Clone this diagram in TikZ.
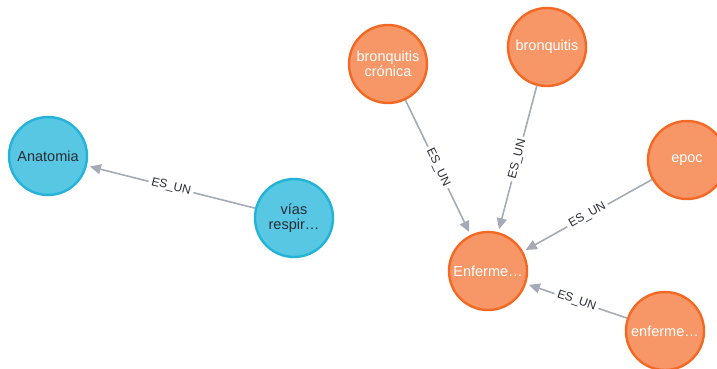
\documentclass[tikz,border=0pt]{standalone}
\usepackage{fontspec}
\setmainfont{Liberation Sans}
\usetikzlibrary{arrows.meta}
\definecolor{cblue}{HTML}{57C7E3}
\definecolor{cblueline}{HTML}{23B3D7}
\definecolor{corange}{HTML}{F79767}
\definecolor{corangeline}{HTML}{F36924}
\definecolor{cedge}{HTML}{A5ABB6}
\definecolor{cdark}{HTML}{2A2C34}
\tikzset{
  every picture/.style={line width=1.2pt},
  ent/.style={circle, draw=#1line, fill=#1, line width=2.4pt, minimum size=78pt, inner sep=0pt, align=center, font=\fontsize{14.5}{15}\selectfont},
  rel/.style={-{Triangle[length=11pt, width=10pt]}, draw=cedge, line width=1.6pt, shorten >=3pt},
  rlabel/.style={sloped, fill=white, inner sep=3pt, text=cdark, font=\fontsize{12}{13}\selectfont},
}

\begin{document}
\begin{tikzpicture}[x=1pt, y=-1pt,
    anat/.style={ent=cblue, text=cdark},
    dis/.style={ent=corange, text=white},
  ]
  \useasboundingbox (0,0) rectangle (717,369);

  % anatomy part
  \node[anat] (anatomia) at (48,156)  {Anatomia};
  \node[anat] (vias)     at (294,218) {vías\\respir…};
  \draw[rel] (vias) -- node[rlabel] {ES\_UN} (anatomia);

  % disease part
  \node[dis] (bcron) at (388,64)  {bronquitis\\crónica};
  \node[dis] (bronq) at (547,47)  {bronquitis};
  \node[dis] (epoc)  at (687,160) {epoc};
  \node[dis] (enfA)  at (488,271) {Enferme…};
  \node[dis] (enfB)  at (665,331) {enferme…};
  \draw[rel] (bcron) -- node[rlabel] {ES\_UN} (enfA);
  \draw[rel] (bronq) -- node[rlabel] {ES\_UN} (enfA);
  \draw[rel] (epoc)  -- node[rlabel] {ES\_UN} (enfA);
  \draw[rel] (enfB)  -- node[rlabel] {ES\_UN} (enfA);
\end{tikzpicture}
\end{document}
